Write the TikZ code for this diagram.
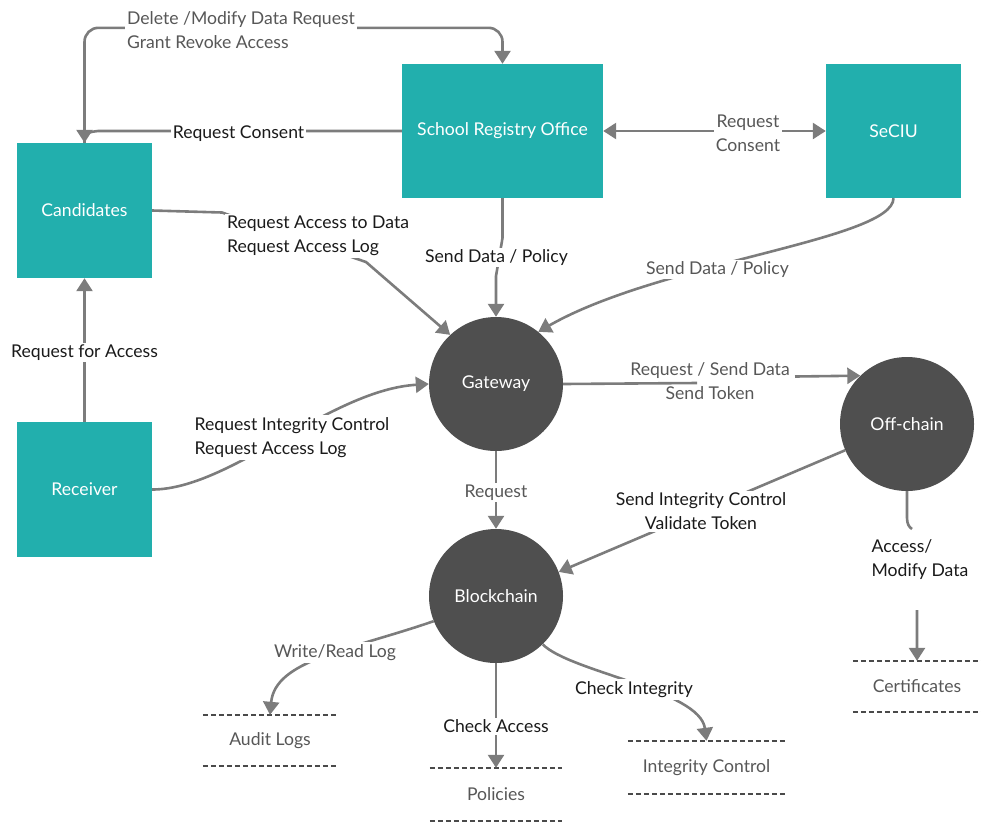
\documentclass[tikz,border=0pt]{standalone}
\usepackage{fontspec}
\setmainfont{Lato}
\usetikzlibrary{arrows.meta}
\definecolor{tealbox}{HTML}{22AFAD}
\definecolor{darkproc}{HTML}{4F4F4F}
\definecolor{conn}{HTML}{7C7C7C}
\definecolor{lblgray}{HTML}{575757}
\definecolor{lblblack}{HTML}{1A1A1A}
\definecolor{storeline}{HTML}{4A4A4A}
\tikzset{
  entity/.style={fill=tealbox, draw=none, text=white, inner sep=0pt,
    minimum width=135pt, minimum height=135pt, font=\fontsize{17.6}{21}\selectfont},
  proc/.style={circle, fill=darkproc, draw=none, text=white, inner sep=0pt,
    minimum size=134pt, font=\fontsize{17.6}{21}\selectfont},
  flowline/.style={draw=conn, line width=2.6pt},
  flow/.style={flowline, -{Triangle[width=16pt,length=13pt]}},
  lbl/.style={fill=white, inner sep=2pt, yshift=-1.5pt, font=\fontsize{17.6}{24}\selectfont},
  glbl/.style={lbl, text=lblgray},
  blbl/.style={lbl, text=lblblack},
  store/.style={draw=none, inner sep=0pt, minimum height=51pt, text=lblgray,
    font=\fontsize{17.6}{21}\selectfont},
  storedash/.style={draw=storeline, line width=1.6pt, dash pattern=on 5.5pt off 2.5pt}
}
\begin{document}
\begin{tikzpicture}[x=1pt,y=-1pt]
\path[use as bounding box] (0,0) rectangle (981,825);

% entities
\node[entity] (cand) at (84.5,210.5) {Candidates};
\node[entity, minimum width=201pt, minimum height=134pt] (sro) at (502.5,131) {School Registry Office};
\node[entity, minimum height=134pt] (seciu) at (893.5,131) {SeCIU};
\node[entity] (recv) at (84.5,489.5) {Receiver};

% processes
\node[proc] (gw) at (496,384) {Gateway};
\node[proc] (bc) at (496,596) {Blockchain};
\node[proc] (off) at (907,424) {Off-chain};

% stores
\node[store, minimum width=134pt] (audit) at (270,740.5) {Audit Logs};
\node[store, minimum width=132pt, minimum height=53pt] (pol) at (496,794.5) {Policies};
\node[store, minimum width=157pt, minimum height=53pt] (integ) at (706.5,767.5) {Integrity Control};
\node[store, minimum width=128pt] (cert) at (917,686.5) {Certificates};
\foreach \s in {audit,pol,integ,cert}{
  \draw[storedash] (\s.north west) -- (\s.north east);
  \draw[storedash] (\s.south west) -- (\s.south east);
}

% Candidates -> School Registry (top)
\draw[flow, rounded corners=14pt] (cand.north) -- ++(0,-115) -| (sro.north);
\node[glbl, align=left] (ldel) at (241,29) {Delete /Modify Data Request\\Grant Revoke Access};

% School Registry -> Candidates (Request Consent)
\draw[flow] (sro.west) -- (98,131) to[out=180,in=90] (cand.north);
\node[blbl] (lcons) at (238.5,132) {Request Consent};

% School Registry <-> SeCIU
\draw[flow, {Triangle[width=16pt,length=13pt]}-{Triangle[width=16pt,length=13pt]}] (sro.east) -- (seciu.west);
\node[glbl, align=center] (lcons2) at (748,132) {Request\\Consent};

% School Registry -> Gateway
\draw[flow] (sro.south) -- (502.5,238) -- (496,276) -- (gw.north);
\node[blbl] (lsdp1) at (496.5,256) {Send Data / Policy};

% SeCIU -> Gateway
\draw[flow] (seciu.south) .. controls (893,240) and (660,262) .. (gw.51);
\node[glbl] (lsdp2) at (717.5,268) {Send Data / Policy};

% Candidates -> Gateway
\draw[flow] (cand.east) -- (222,212.5) -- (366,262) -- (gw.133);
\node[blbl, align=left] (lreq) at (318,234.5) {Request Access to Data\\Request Access Log};

% Receiver -> Candidates
\draw[flow] (recv.north) -- (cand.south);
\node[blbl] (lrfa) at (84.5,351) {Request for Access};

% Receiver -> Gateway
\draw[flow] (recv.east) .. controls (230,489.5) and (330,390) .. (gw.west);
\node[blbl, align=left] (lric) at (292,436) {Request Integrity Control\\Request Access Log};

% Gateway -> Off-chain
\draw[flow] (gw.east) -- (697,383) (795,376.5) -- (off.134);
\node[glbl, align=center, fill=none] (lrsd) at (710,380) {Request / Send Data\\Send Token};

% Off-chain -> Blockchain
\draw[flow] (off.203) -- (bc.21);
\node[blbl, align=center] (lsic) at (701,510) {Send Integrity Control\\Validate Token};

% Gateway -> Blockchain
\draw[flow] (gw.south) -- (bc.north);
\node[glbl] (lreq2) at (496,491) {Request};

% Off-chain -> Certificates
\draw[flow] (off.south) -- (907,518) .. controls (907,524) and (909,527) .. (912,529) (917,610) -- (cert.north);
\node[blbl, align=left, fill=none] (lamd) at (920,558) {Access/\\Modify Data};

% Blockchain -> Audit Logs
\draw[flow] (bc.202) .. controls (350,650) and (275,660) .. (audit.north);
\node[glbl] (lwrl) at (335,651) {Write/Read Log};

% Blockchain -> Policies
\draw[flow] (bc.south) -- (pol.north);
\node[blbl] (lca) at (496,725) {Check Access};

% Blockchain -> Integrity Control
\draw[flow] (bc.314) .. controls (570,672) and (700,690) .. (integ.north);
\node[blbl] (lci) at (634,688) {Check Integrity};

\end{tikzpicture}
\end{document}
